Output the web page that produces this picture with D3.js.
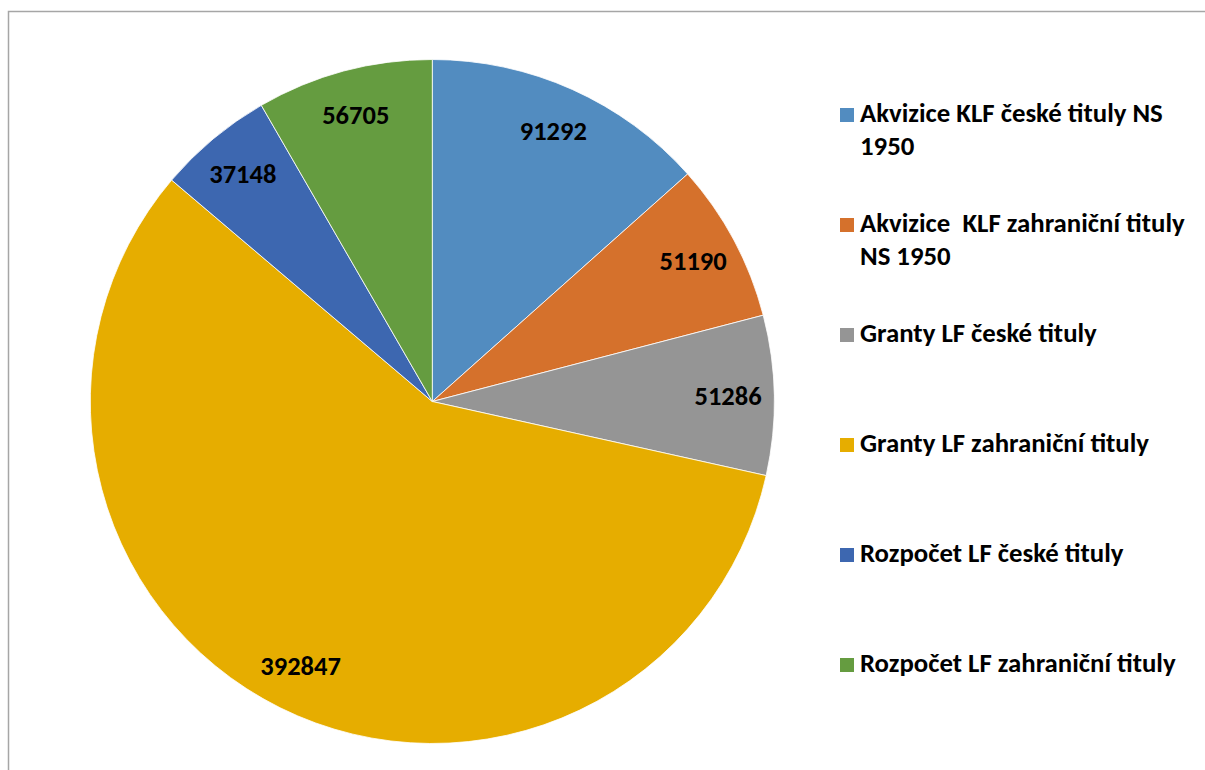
<!DOCTYPE html>
<html>
<head>
<meta charset="utf-8">
<script src="https://cdn.jsdelivr.net/npm/d3@7"></script>
<style>
  html, body { margin: 0; padding: 0; background: #fff; }
  svg { display: block; }
  text { font-family: Carlito, "Open Sans", Lato, sans-serif; font-weight: bold; fill: #000; }
</style>
</head>
<body>
<svg id="chart" width="1205" height="770"></svg>
<script>
// ---- data ----
const categories = [
  "Akvizice KLF české tituly NS 1950",
  "Akvizice  KLF zahraniční tituly NS 1950",
  "Granty LF české tituly",
  "Granty LF zahraniční tituly",
  "Rozpočet LF české tituly",
  "Rozpočet LF zahraniční tituly"
];
const values = [91292, 51190, 51286, 392847, 37148, 56705];
const colors = ["#528CC0", "#D5712C", "#959595", "#E6AD00", "#3D67B0", "#659C40"];

// ---- layout ----
const cx = 432.3, cy = 401.5, R = 342;
const svg = d3.select("#chart");

// frame
svg.append("rect")
  .attr("x", 8.5).attr("y", 11.5)
  .attr("width", 1220).attr("height", 800)
  .attr("fill", "none").attr("stroke", "#A6A6A6").attr("stroke-width", 1.5);

const data = categories.map((c, i) => ({ name: c, value: values[i], color: colors[i] }));

const pie = d3.pie().value(d => d.value).sort(null);
const arcs = pie(data);
const arc = d3.arc().innerRadius(0).outerRadius(R);
const labelArc = d3.arc().innerRadius(R * 0.865).outerRadius(R * 0.865);

const g = svg.append("g").attr("transform", `translate(${cx},${cy})`);

g.selectAll("path.slice").data(arcs).join("path")
  .attr("class", "slice")
  .attr("d", arc)
  .attr("fill", d => d.data.color)
  .attr("stroke", "#fff")
  .attr("stroke-width", 0.8)
  .attr("stroke-linejoin", "round");

g.selectAll("text.lbl").data(arcs).join("text")
  .attr("class", "lbl")
  .attr("transform", d => { const [x, y] = labelArc.centroid(d); return `translate(${x},${y})`; })
  .attr("text-anchor", "middle")
  .attr("dy", "0.32em")
  .style("font-size", "26.5px")
  .text(d => d3.format("d")(d.data.value));

// legend
const legX = 840, legY0 = 122, legStep = 110, lineH = 33, maxW = 340;
const leg = svg.append("g");
data.forEach((d, i) => {
  const y = legY0 + i * legStep;
  leg.append("rect")
    .attr("x", legX).attr("y", y - 14)
    .attr("width", 14).attr("height", 14)
    .attr("fill", d.color);
  const t = leg.append("text")
    .attr("x", legX + 20).attr("y", y)
    .style("font-size", "26.8px")
    .style("white-space", "pre");
  const words = d.name.split(" ");
  let lines = [], cur = "";
  const probe = t.append("tspan");
  words.forEach(w => {
    const test = cur === "" ? w : cur + " " + w;
    probe.text(test);
    if (probe.node().getComputedTextLength() > maxW && cur !== "") {
      lines.push(cur); cur = w;
    } else cur = test;
  });
  lines.push(cur);
  probe.remove();
  lines.forEach((ln, k) => {
    t.append("tspan").attr("x", legX + 20).attr("y", y + k * lineH).text(ln);
  });
});
</script>
</body>
</html>
